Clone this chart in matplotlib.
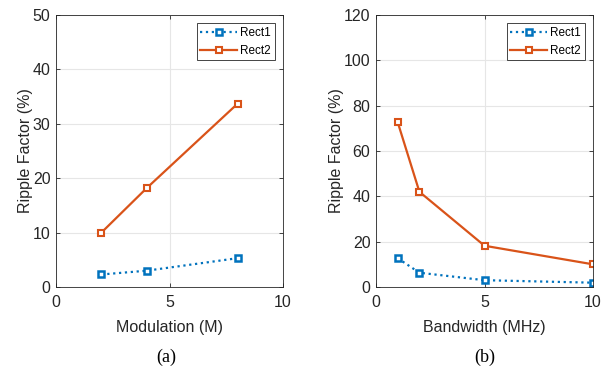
import matplotlib
matplotlib.use("Agg")
import matplotlib.pyplot as plt

plt.rcParams['font.family'] = ['Liberation Sans', 'DejaVu Sans']

mod_x = [2, 4, 8]
mod_rect1 = [2.3, 3.0, 5.3]
mod_rect2 = [10.0, 18.2, 33.7]

bw_x = [1, 2, 5, 10]
bw_rect1 = [12.7, 6.3, 3.0, 1.9]
bw_rect2 = [72.7, 42.0, 18.2, 10.0]

labels = ['Rect1', 'Rect2']
c1 = '#0072BD'
c2 = '#D95319'

fig = plt.figure(figsize=(6.05, 3.71), dpi=100)
W, H = 605, 371
axa = fig.add_axes([56 / W, 1 - 287 / H, (283 - 56) / W, (287 - 15) / H])
axb = fig.add_axes([376 / W, 1 - 287 / H, (593 - 376) / W, (287 - 15) / H])

def style(ax, xlim, ylim, xticks, yticks, xlabel):
    ax.set_xlim(*xlim)
    ax.set_ylim(*ylim)
    ax.set_xticks(xticks)
    ax.set_yticks(yticks)
    ax.grid(True, color='#e6e6e6', linewidth=0.8)
    ax.set_axisbelow(True)
    ax.tick_params(direction='in', top=True, right=True, labelsize=11.5,
                   colors='#262626', length=3, width=0.6)
    ax.tick_params(axis='x', pad=6)
    ax.tick_params(axis='y', pad=4)
    for s in ax.spines.values():
        s.set_color('#262626')
        s.set_linewidth(0.6)
    ax.set_xlabel(xlabel, fontsize=11.5, color='#262626', labelpad=7)
    ax.set_ylabel('Ripple Factor (%)', fontsize=11.5, color='#262626', labelpad=0)

def draw(ax, x, y1, y2):
    ax.plot(x, y1, ':', color=c1, linewidth=1.6, marker='s', markersize=5,
            markerfacecolor='white', markeredgewidth=1.8, label=labels[0])
    ax.plot(x, y2, '-', color=c2, linewidth=1.6, marker='s', markersize=5,
            markerfacecolor='white', markeredgewidth=1.5, label=labels[1])
    leg = ax.legend(loc='upper right', fontsize=8.5, frameon=True, fancybox=False,
                    edgecolor='#262626', framealpha=1, handlelength=3.1,
                    borderpad=0.3, labelspacing=0.5, handletextpad=0.3,
                    borderaxespad=0.7)
    leg.get_frame().set_linewidth(0.6)

draw(axa, mod_x, mod_rect1, mod_rect2)
style(axa, (0, 10), (0, 50), [0, 5, 10], [0, 10, 20, 30, 40, 50], 'Modulation (M)')
draw(axb, bw_x, bw_rect1, bw_rect2)
style(axb, (0, 10), (0, 120), [0, 5, 10], [0, 20, 40, 60, 80, 100, 120], 'Bandwidth (MHz)')

fig.text(166 / W, 1 - 357 / H, '(a)', family='Liberation Serif', fontsize=13, ha='center', va='center')
fig.text(485 / W, 1 - 357 / H, '(b)', family='Liberation Serif', fontsize=13, ha='center', va='center')

fig.savefig('out.png', dpi=100)
